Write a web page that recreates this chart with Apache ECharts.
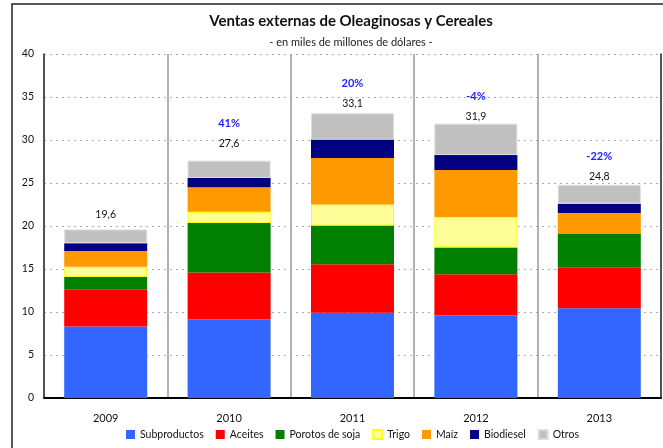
<!DOCTYPE html>
<html>
<head>
<meta charset="utf-8">
<script src="https://cdn.jsdelivr.net/npm/echarts@6/dist/echarts.min.js"></script>
<style>
  html, body { margin: 0; padding: 0; background: #fff; }
  #chart { width: 663px; height: 448px; }
</style>
</head>
<body>
<div id="chart"></div>
<script>
// datos (miles de millones de dolares)
var years = ['2009', '2010', '2011', '2012', '2013']
var subproductos = [8.3, 9.15, 9.9, 9.6, 10.45]
var aceites = [4.3, 5.45, 5.65, 4.8, 4.7]
var porotos = [1.5, 5.75, 4.5, 3.1, 4.05]
var trigo = [1.15, 1.3, 2.45, 3.55, 0]
var maiz = [1.85, 2.85, 5.4, 5.45, 2.3]
var biodiesel = [0.9, 1.1, 2.15, 1.75, 1.1]
var otros = [1.6, 2.0, 3.05, 3.65, 2.2]
var totales = ['19,6', '27,6', '33,1', '31,9', '24,8']
var variacion = ['', '41%', '20%', '-4%', '-22%']
var yTicks = [0, 5, 10, 15, 20, 25, 30, 35, 40]

// separacion de la etiqueta sobre cada barra (px)
var labelGap = [9, 11, 4, 1, 2]

var font = 'Lato, "Open Sans", sans-serif'

function serie(name, data, color, border) {
  return {
    name: name,
    type: 'bar',
    stack: 'total',
    barWidth: 83,
    data: data,
    itemStyle: {
      color: color,
      borderColor: border || color,
      borderWidth: border ? 1 : 0
    }
  }
}

var series = [
  serie('Subproductos', subproductos, '#3366ff'),
  serie('Aceites', aceites, '#ff0000'),
  serie('Porotos de soja', porotos, '#008000'),
  serie('Trigo', trigo, '#ffff99', '#ffff00'),
  serie('Maíz', maiz, '#ff9900'),
  serie('Biodiesel', biodiesel, '#000080'),
  serie('Otros', otros, '#c0c0c0', '#dddddd')
]

// etiquetas de total y variacion sobre la ultima serie
series[6].data = otros.map(function (v, i) {
  return {
    value: v,
    label: {
      show: true,
      position: 'top',
      distance: labelGap[i],
      formatter: (variacion[i] ? '{p|' + variacion[i] + '}\n' : '') + '{t|' + totales[i] + '}',
      rich: {
        p: { color: '#2222ff', fontWeight: 'bold', fontSize: 11, fontFamily: font, lineHeight: 28 },
        t: { color: '#111', fontSize: 10.5, fontFamily: font, lineHeight: 12 }
      }
    }
  }
})

var chart = echarts.init(document.getElementById('chart'))
chart.setOption({
  animation: false,
  backgroundColor: '#fff',
  title: {
    text: 'Ventas externas de Oleaginosas y Cereales',
    subtext: '- en miles de millones de dólares -',
    left: 346,
    textAlign: 'center',
    top: 9,
    itemGap: 8,
    textStyle: { fontSize: 15, fontWeight: 'bold', color: '#111', fontFamily: font },
    subtextStyle: { fontSize: 11, color: '#222', fontFamily: font }
  },
  graphic: [
    {
      type: 'rect',
      shape: { x: 12, y: 4, width: 700, height: 500 },
      style: { fill: 'none', stroke: '#222', lineWidth: 1.5 },
      silent: true
    }
  ],
  legend: {
    bottom: 3,
    left: 121,
    icon: 'rect',
    itemWidth: 9,
    itemHeight: 9,
    itemGap: 12,
    textStyle: { fontSize: 10.5, color: '#111', fontFamily: font }
  },
  grid: { left: 44, right: 2, top: 54, bottom: 50 },
  xAxis: {
    type: 'category',
    data: years,
    axisTick: { show: false },
    axisLine: { lineStyle: { color: '#000', width: 2 } },
    axisLabel: { color: '#111', fontSize: 11, fontFamily: font, margin: 15 },
    splitLine: { show: true, lineStyle: { color: '#999', width: 1.5 } }
  },
  yAxis: [
    {
      type: 'value',
      min: yTicks[0],
      max: yTicks[yTicks.length - 1],
      interval: 5,
      axisLine: { show: true, lineStyle: { color: '#333', width: 1.5 } },
      axisTick: { show: false },
      axisLabel: { color: '#111', fontSize: 10.5, fontFamily: font, margin: 10 },
      splitLine: { show: true, lineStyle: { color: '#aaa', type: [2, 4] } }
    },
    {
      type: 'value',
      position: 'right',
      min: yTicks[0],
      max: yTicks[yTicks.length - 1],
      interval: 5,
      axisLine: { show: true, lineStyle: { color: '#333', width: 1.5 } },
      axisTick: { show: false },
      axisLabel: { show: false },
      splitLine: { show: false }
    }
  ],
  series: series
})
</script>
</body>
</html>
